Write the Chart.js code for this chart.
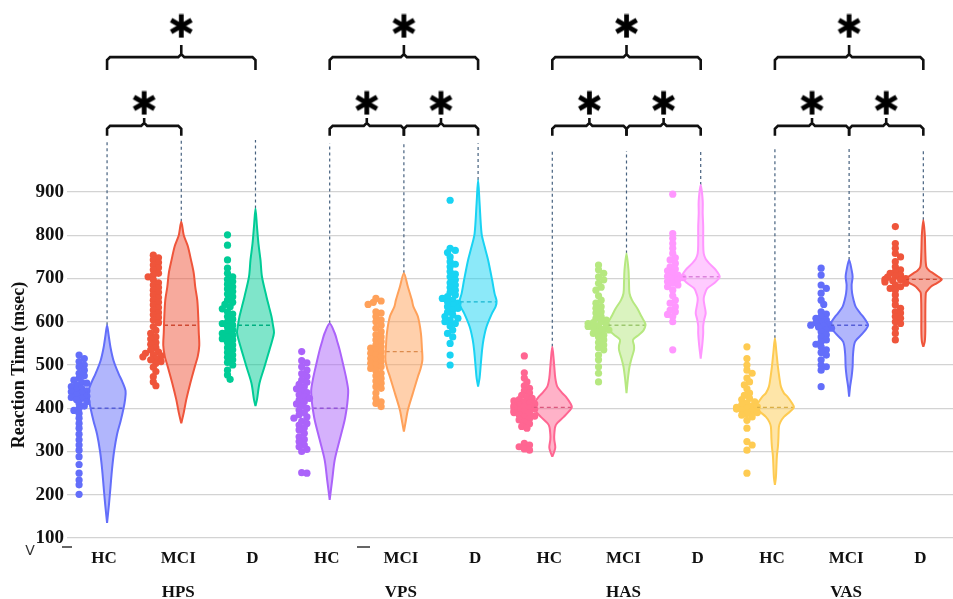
<!DOCTYPE html>
<html>
<head>
<meta charset="utf-8">
<script src="https://cdn.jsdelivr.net/npm/chart.js@4.4.0/dist/chart.umd.min.js"></script>
<style>
  html, body { margin: 0; padding: 0; background: #fff; }
  #wrap { width: 953px; height: 599px; }
</style>
</head>
<body>
<div id="wrap"><canvas id="chart"></canvas></div>
<script>
const groups = ["HPS", "VPS", "HAS", "VAS"];
const subjects = ["HC", "MCI", "D"];
const yTicks = [100, 200, 300, 400, 500, 600, 700, 800, 900];

// reaction times (msec), one dot each
const hpsHC = [523, 515, 508, 500, 496, 488, 481, 475, 470, 465, 460, 458, 454, 450, 446, 442, 440, 438, 435, 431, 428, 425, 423, 420, 415, 411, 405, 400, 395, 388, 377, 365, 354, 340, 327, 315, 303, 288, 270, 250, 234, 223, 201];
const hpsMCI = [754, 748, 743, 737, 731, 725, 720, 712, 708, 704, 697, 690, 685, 679, 673, 668, 662, 656, 650, 645, 639, 633, 627, 621, 616, 610, 604, 598, 589, 580, 573, 565, 560, 552, 548, 540, 535, 530, 527, 524, 521, 519, 515, 512, 508, 504, 495, 485, 473, 461, 452];
const hpsD = [801, 777, 743, 724, 712, 704, 698, 693, 687, 681, 676, 670, 664, 658, 650, 645, 640, 635, 630, 623, 618, 612, 606, 600, 596, 592, 588, 581, 577, 573, 569, 565, 561, 558, 552, 546, 540, 535, 529, 523, 518, 512, 506, 500, 488, 477, 467];
const vpsHC = [531, 510, 505, 496, 488, 480, 474, 465, 460, 455, 450, 445, 440, 436, 431, 427, 423, 419, 415, 410, 405, 400, 396, 390, 385, 380, 377, 370, 365, 361, 355, 350, 342, 334, 328, 323, 315, 311, 305, 300, 251, 250];
const vpsMCI = [654, 648, 645, 640, 623, 620, 612, 604, 600, 592, 585, 577, 570, 565, 558, 554, 546, 542, 539, 535, 531, 527, 523, 519, 515, 511, 508, 504, 500, 496, 492, 487, 481, 475, 469, 463, 458, 450, 446, 435, 423, 415, 411, 404];
const vpsD = [881, 770, 765, 760, 750, 739, 733, 727, 716, 710, 704, 697, 690, 685, 679, 673, 668, 662, 658, 654, 650, 646, 643, 639, 635, 631, 627, 622, 616, 612, 608, 604, 600, 596, 590, 581, 573, 565, 550, 523, 500];
const hasHC = [521, 482, 470, 461, 452, 446, 440, 435, 430, 425, 423, 420, 417, 415, 412, 410, 408, 406, 404, 402, 400, 398, 396, 394, 392, 390, 388, 385, 382, 380, 376, 373, 368, 364, 358, 354, 319, 315, 311, 306, 303];
const hasMCI = [731, 720, 712, 704, 697, 689, 680, 673, 660, 650, 643, 635, 631, 623, 620, 612, 608, 604, 600, 598, 596, 593, 591, 589, 586, 583, 581, 577, 573, 569, 565, 558, 552, 546, 540, 535, 523, 512, 496, 481, 461];
const hasD = [895, 804, 793, 781, 770, 758, 748, 743, 735, 727, 722, 718, 712, 708, 705, 702, 700, 697, 693, 689, 685, 681, 673, 660, 650, 643, 635, 627, 623, 617, 612, 600, 535];
const vasHC = [542, 515, 500, 488, 481, 470, 461, 454, 445, 435, 430, 423, 420, 415, 412, 408, 405, 403, 402, 400, 398, 396, 393, 390, 388, 384, 380, 372, 354, 323, 315, 303, 250];
const vasMCI = [724, 708, 685, 677, 666, 650, 640, 623, 618, 612, 608, 604, 600, 597, 594, 592, 590, 588, 585, 581, 577, 570, 565, 558, 554, 548, 542, 535, 529, 523, 512, 500, 496, 488, 450];
const vasD = [820, 781, 770, 758, 750, 739, 727, 720, 716, 712, 708, 705, 703, 700, 698, 697, 695, 692, 689, 685, 681, 677, 673, 662, 650, 639, 631, 623, 620, 612, 608, 600, 596, 585, 573, 558];

// violin outlines: [msec, relative density]
const hpsHCShape = [[135,0],[180,4],[220,7],[260,10],[300,14],[340,20],[370,27],[400,33],[420,36],[440,37],[460,31],[480,23],[510,13],[540,7],[570,3],[592,0]];
const hpsMCIShape = [[365,0],[390,5],[420,10],[458,18],[496,27],[520,33],[545,36],[575,35],[610,34],[650,32],[680,28],[712,25],[740,20],[775,13],[800,5],[831,0]];
const hpsDShape = [[405,0],[420,3],[458,8],[496,18],[535,28],[555,33],[575,37],[592,35],[612,32],[635,27],[658,22],[704,13],[743,10],[780,6],[820,3],[862,0]];
const vpsHCShape = [[188,0],[234,5],[280,10],[327,20],[373,30],[400,34],[420,36],[442,37],[470,33],[496,28],[535,20],[555,15],[574,10],[596,0]];
const vpsMCIShape = [[346,0],[365,3],[396,8],[435,18],[473,28],[490,33],[512,37],[540,36],[574,34],[612,28],[635,19],[650,16],[681,8],[712,0]];
const vpsDShape = [[450,0],[470,3],[496,5],[535,8],[560,11],[589,17],[620,28],[635,35],[648,37],[665,33],[697,28],[743,20],[774,13],[804,7],[874,3],[928,0]];
const hasHCShape = [[288,0],[300,4],[310,6],[327,4],[340,4],[361,7],[380,23],[395,35],[402,39],[410,37],[427,27],[435,20],[450,10],[470,6],[496,4],[510,3],[542,0]];
const hasMCIShape = [[435,0],[470,3],[496,6],[515,10],[535,15],[545,15],[558,13],[570,25],[580,34],[592,38],[600,36],[612,30],[630,22],[650,11],[666,6],[690,5],[720,4],[758,0]];
const hasDShape = [[515,0],[545,3],[573,5],[590,5],[605,7],[620,10],[635,8],[650,6],[660,7],[677,13],[690,28],[704,38],[720,30],[735,17],[745,10],[758,6],[780,5],[820,5],[850,4],[880,4],[916,0]];
const vasHCShape = [[223,0],[240,2],[265,3],[290,4],[311,6],[330,7],[357,8],[368,11],[380,18],[392,30],[402,38],[412,34],[427,25],[435,18],[450,12],[470,9],[496,6],[530,3],[562,0]];
const vasMCIShape = [[427,0],[450,2],[473,5],[496,7],[527,8],[554,12],[573,27],[583,34],[592,38],[600,35],[612,28],[620,22],[635,13],[650,9],[666,6],[685,5],[704,7],[720,5],[743,0]];
const vasDShape = [[542,0],[555,3],[580,4],[620,4],[666,5],[672,8],[681,15],[690,28],[698,37],[704,30],[712,20],[718,12],[727,6],[760,4],[800,3],[835,0]];

// dashed mean line of each violin
const meanLines = [400, 592, 592, 400, 531, 646, 402, 592, 704, 402, 592, 698];

// significant pairs [from, to, tier] (index into the 12 violins)
const comparisons = [
  [0, 1, "low"], [0, 2, "high"],
  [3, 4, "low"], [4, 5, "low"], [3, 5, "high"],
  [6, 7, "low"], [7, 8, "low"], [6, 8, "high"],
  [9, 10, "low"], [10, 11, "low"], [9, 11, "high"]
];

const colors = ["#636EFA", "#EF553B", "#00CC96", "#AB63FA", "#FFA15A", "#19D3F3",
                "#FF6692", "#B6E880", "#FF97FF", "#FECB52", "#636EFA", "#EF553B"];

// layout (msec units on y, slot units on x)
const Y_MAX = 1344;
const X_MIN = -0.54, X_MAX = 11.4;
const PX_X = 74.2, PX_Y = 0.4325;        // px per unit
const guideTop = [1020, 1013, 995, 1000];
const tiers = {
  high: { bar: 1212, end: 1182, stem: 1240, star: 1284 },
  low:  { bar: 1053, end: 1030, stem: 1071, star: 1106 }
};
const DOT_OFFSET = -0.377;
const serif = '"Liberation Serif", "Times New Roman", serif';

const pointSets = [hpsHC, hpsMCI, hpsD, vpsHC, vpsMCI, vpsD, hasHC, hasMCI, hasD, vasHC, vasMCI, vasD];
const shapeSets = [hpsHCShape, hpsMCIShape, hpsDShape, vpsHCShape, vpsMCIShape, vpsDShape,
                   hasHCShape, hasMCIShape, hasDShape, vasHCShape, vasMCIShape, vasDShape];

const maxDensity = Math.max(...shapeSets.flat().map(p => p[1]));
const halfWidth = 19.5 / PX_X;

function rgba(hex, a) {
  const n = parseInt(hex.slice(1), 16);
  return `rgba(${n >> 16},${(n >> 8) & 255},${n & 255},${a})`;
}
function darker(hex, f) {
  const n = parseInt(hex.slice(1), 16);
  return `rgb(${Math.round((n >> 16) * f)},${Math.round(((n >> 8) & 255) * f)},${Math.round((n & 255) * f)})`;
}
function widthAt(shape, v) {
  for (let k = 1; k < shape.length; k++) {
    const [v0, w0] = shape[k - 1], [v1, w1] = shape[k];
    if (v >= v0 && v <= v1) return w0 + (w1 - w0) * (v - v0) / (v1 - v0);
  }
  return 0;
}

// simple beeswarm so dots don't sit on top of each other
function swarm(values, center) {
  const step = 2.6 / PX_X, placed = [];
  return values.slice().sort((a, b) => b - a).map(v => {
    let off = 0;
    for (let k = 0; k < 9; k++) {
      const n = Math.ceil(k / 2);
      off = (k % 2 ? 1 : -1) * n * step;
      const hit = placed.some(p => Math.hypot((p.off - off) * PX_X, (p.v - v) * PX_Y) < 4.5);
      if (!hit) break;
    }
    placed.push({ v, off });
    return { x: center + off, y: v };
  });
}

function makeStar(size) {
  const c = document.createElement("canvas");
  c.width = c.height = size;
  const g = c.getContext("2d");
  g.strokeStyle = "#000";
  g.lineWidth = size * 0.19;
  g.translate(size / 2, size / 2);
  [90, 30, 150].forEach(a => {
    const r = a * Math.PI / 180, L = size * 0.47;
    g.beginPath();
    g.moveTo(Math.cos(r) * L, -Math.sin(r) * L);
    g.lineTo(-Math.cos(r) * L, Math.sin(r) * L);
    g.stroke();
  });
  return c;
}
const star = makeStar(25);

const datasets = [];

pointSets.forEach((vals, i) => {
  const c = colors[i];
  const shape = shapeSets[i];
  const scaleW = w => w / maxDensity * halfWidth;
  const right = shape.map(([v, w]) => ({ x: i + scaleW(w), y: v }));
  const left = shape.slice(0, -1).reverse().map(([v, w]) => ({ x: i - scaleW(w), y: v }));
  const top = shape[shape.length - 1][0];

  datasets.push({
    data: right.concat(left),
    indexAxis: "y",
    borderColor: c,
    backgroundColor: rgba(c, 0.5),
    borderWidth: 2,
    fill: "shape",
    tension: 0.3,
    pointRadius: 0
  });

  const hw = scaleW(widthAt(shape, meanLines[i]));
  datasets.push({
    data: [{ x: i - hw, y: meanLines[i] }, { x: i + hw, y: meanLines[i] }],
    borderColor: darker(c, 0.72),
    borderWidth: 1.4,
    borderDash: [4, 3],
    pointRadius: 0,
    fill: false
  });

  datasets.push({
    data: [{ x: i, y: top }, { x: i, y: guideTop[Math.floor(i / 3)] }],
    borderColor: "#46617f",
    borderWidth: 1.2,
    borderDash: [3, 3],
    pointRadius: 0,
    fill: false
  });

  datasets.push({
    data: swarm(vals, i + DOT_OFFSET),
    showLine: false,
    pointRadius: 3.6,
    pointHoverRadius: 3.6,
    pointBorderWidth: 0,
    pointBackgroundColor: c,
    fill: false
  });
});

const cx = 3 / PX_X, cy = 3 / PX_Y;
comparisons.forEach(([a, b, tier]) => {
  const t = tiers[tier];
  const m = (a + b) / 2;
  datasets.push({
    data: [
      { x: a, y: t.end }, { x: a, y: t.bar - cy }, { x: a + cx, y: t.bar },
      { x: m - cx, y: t.bar }, { x: m, y: t.bar + cy }, { x: m, y: t.stem },
      { x: m, y: t.bar + cy }, { x: m + cx, y: t.bar },
      { x: b - cx, y: t.bar }, { x: b, y: t.bar - cy }, { x: b, y: t.end }
    ],
    borderColor: "#111",
    borderWidth: 2.6,
    pointRadius: 0,
    tension: 0,
    fill: false
  });
  datasets.push({
    data: [{ x: m, y: t.star }],
    showLine: false,
    pointStyle: star,
    pointRadius: 12,
    fill: false
  });
});

const extras = {
  id: "extras",
  afterDraw(chart) {
    const { ctx } = chart;
    const y = chart.scales.y;
    ctx.save();
    ctx.fillStyle = "#111";
    ctx.font = `bold 18px ${serif}`;
    ctx.textAlign = "center";
    ctx.textBaseline = "middle";
    ctx.translate(19, (y.getPixelForValue(yTicks[0]) + y.getPixelForValue(yTicks[yTicks.length - 1])) / 2);
    ctx.rotate(-Math.PI / 2);
    ctx.fillText("Reaction Time (msec)", 0, 0);
    ctx.restore();

    // small stray marks of the original figure
    ctx.save();
    ctx.fillStyle = "#333";
    ctx.font = "14px DejaVu Sans";
    ctx.textAlign = "center";
    ctx.textBaseline = "middle";
    ctx.fillText("V", 30, 551);
    ctx.strokeStyle = "#333";
    ctx.lineWidth = 1.5;
    ctx.beginPath();
    ctx.moveTo(62, 547); ctx.lineTo(72, 547);
    ctx.moveTo(357, 547); ctx.lineTo(370, 547);
    ctx.stroke();
    ctx.restore();
  }
};

const noPadding = s => { s.paddingTop = 0; s.paddingBottom = 0; s.paddingLeft = 0; s.paddingRight = 0; };

new Chart(document.getElementById("chart"), {
  type: "line",
  data: { datasets },
  plugins: [extras],
  options: {
    animation: false,
    responsive: true,
    maintainAspectRatio: false,
    events: [],
    layout: { padding: 0, autoPadding: false },
    plugins: { legend: { display: false }, tooltip: { enabled: false } },
    scales: {
      x: {
        type: "linear",
        min: X_MIN,
        max: X_MAX,
        grid: { display: false, drawTicks: false },
        border: { display: false },
        afterBuildTicks: s => { s.ticks = pointSets.map((_, i) => ({ value: i })); },
        afterFit: s => { s.height = 61; noPadding(s); },
        ticks: {
          autoSkip: false,
          maxRotation: 0,
          padding: 4,
          labelOffset: -3,
          color: "#111",
          font: { family: serif, weight: "bold", size: 17, lineHeight: 2 },
          callback: v => {
            const i = Math.round(v);
            return i % 3 === 1 ? [subjects[1], groups[Math.floor(i / 3)]] : subjects[i % 3];
          }
        }
      },
      y: {
        type: "linear",
        min: 100,
        max: Y_MAX,
        afterBuildTicks: s => { s.ticks = yTicks.map(v => ({ value: v })); },
        afterFit: s => { s.width = 67; noPadding(s); },
        grid: { color: "#d3d3d3", lineWidth: 1.3, drawTicks: false },
        border: { display: false },
        ticks: {
          padding: 3,
          color: "#111",
          font: { family: serif, weight: "bold", size: 19 }
        }
      }
    }
  }
});
</script>
</body>
</html>
